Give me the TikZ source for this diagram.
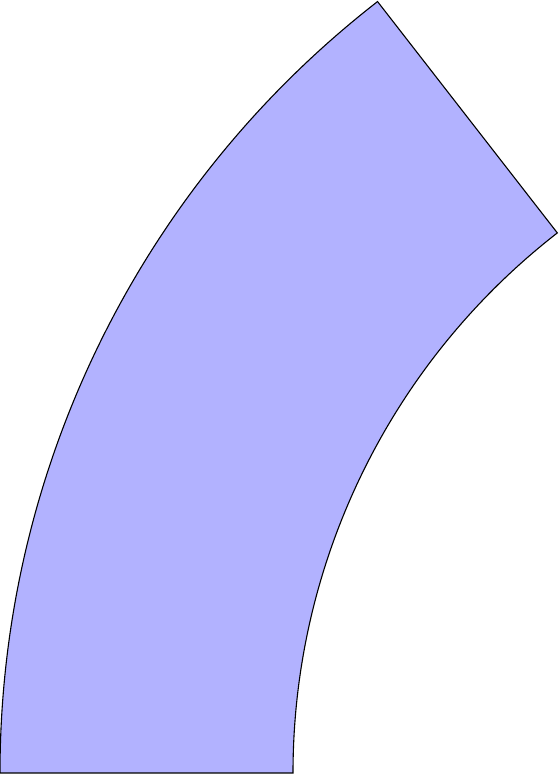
\documentclass[tikz,border=0pt]{standalone}
\usetikzlibrary{calc}
\begin{document}
\begin{tikzpicture}[x=1pt,y=1pt,sector/.style={fill=blue!30,draw=black,line width=1.1pt,line join=miter}]
\useasboundingbox (0,0) rectangle (559,776);
\coordinate (c) at (977,3);
\draw[sector] (0,3) arc[start angle=180,end angle=127.85,radius=977]
  -- ($(c)+(127.85:684)$) arc[start angle=127.85,end angle=180,radius=684] -- cycle;
\end{tikzpicture}
\end{document}
